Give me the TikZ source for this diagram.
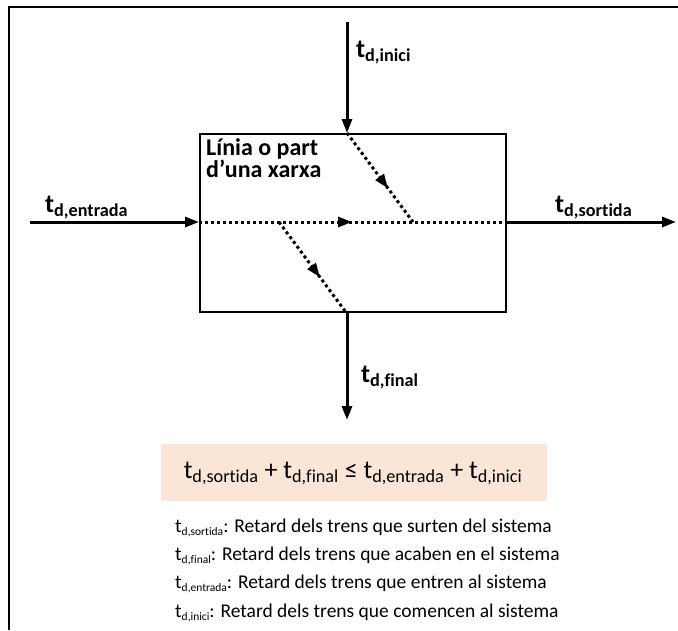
\documentclass[tikz,border=0pt]{standalone}
\usepackage{fontspec}
\setmainfont{Carlito}[Ligatures={NoCommon}]
\usetikzlibrary{arrows.meta,decorations.markings}
\definecolor{peach}{HTML}{FBE5D6}
\newcommand\tdx[1]{t\textsubscript{d,#1}}
\newcommand\tdl[1]{t\raisebox{-3.5pt}{\fontsize{11.5}{11.5}\selectfont d,#1}}
\tikzset{
  flow/.style={line width=3pt,-{Triangle[length=14pt,width=10pt]}},
  dotline/.style={line width=3pt,dash pattern=on 3pt off 3pt},
  midarrow/.style={postaction={decorate},decoration={markings,
     mark=at position #1 with {\arrow{Triangle[length=14pt,width=10pt]}}}},
  lbl/.style={font=\fontsize{26}{26}\selectfont\bfseries,anchor=base west,inner sep=0pt},
  legend/.style={font=\fontsize{19.5}{19.5}\selectfont,anchor=base west,inner sep=0pt}
}
\begin{document}
\begin{tikzpicture}[x=1pt,y=-1pt]
\useasboundingbox (0,0) rectangle (678,630);
% frame
\draw[line width=2.5pt] (678,7) -- (9,7) -- (9,630);
% system box
\node[draw,line width=2pt,minimum width=306pt,minimum height=178pt,inner sep=0pt,anchor=north west] (box) at (199,133) {};
\node[font=\fontsize{24}{22}\selectfont\bfseries,align=left,anchor=base west,inner sep=0pt] (title) at (206,177) {Línia o part\\d’una xarxa};
% coordinates
\coordinate (inS) at (30,222);
\coordinate (inE) at (199,222);
\coordinate (outS) at (505,222);
\coordinate (outE) at (676,222);
\coordinate (topS) at (347,22);
\coordinate (topE) at (347,133);
\coordinate (botS) at (347,311);
\coordinate (botE) at (347,420);
\coordinate (joinA) at (413,222);
\coordinate (splitB) at (279,222);
\coordinate (endB) at (345,311);
% solid arrows
\draw[flow] (inS) -- (inE);
\draw[flow] (outS) -- (outE);
\draw[flow] (topS) -- (topE);
\draw[flow] (botS) -- (botE);
% dotted paths
\draw[dotline,midarrow=0.5] (inE) -- (outS);
\draw[dotline,midarrow=0.62] (topE) -- (joinA);
\draw[dotline,midarrow=0.62] (splitB) -- (endB);
% labels
\node[lbl] (linici) at (356,57) {\tdx{inici}};
\node[lbl] (lentrada) at (45,212) {\tdx{entrada}};
\node[lbl] (lsortida) at (555,212) {\tdx{sortida}};
\node[lbl] (lfinal) at (361,382) {\tdx{final}};
% formula
\node[fill=peach,minimum width=386pt,minimum height=57pt,inner sep=0pt,anchor=north west] (fbox) at (161,444) {};
\node[font=\fontsize{26}{26}\selectfont,anchor=base,inner sep=0pt] (formula) at (353,478) {\tdx{sortida} + \tdx{final} ≤ \tdx{entrada} + \tdx{inici}};
% legend
\node[legend] (l1) at (175,532) {\tdl{sortida}: Retard dels trens que surten del sistema};
\node[legend] (l2) at (175,560) {\tdl{final}: Retard dels trens que acaben en el sistema};
\node[legend] (l3) at (175,588) {\tdl{entrada}: Retard dels trens que entren al sistema};
\node[legend] (l4) at (175,617) {\tdl{inici}: Retard dels trens que comencen al sistema};
\end{tikzpicture}
\end{document}
